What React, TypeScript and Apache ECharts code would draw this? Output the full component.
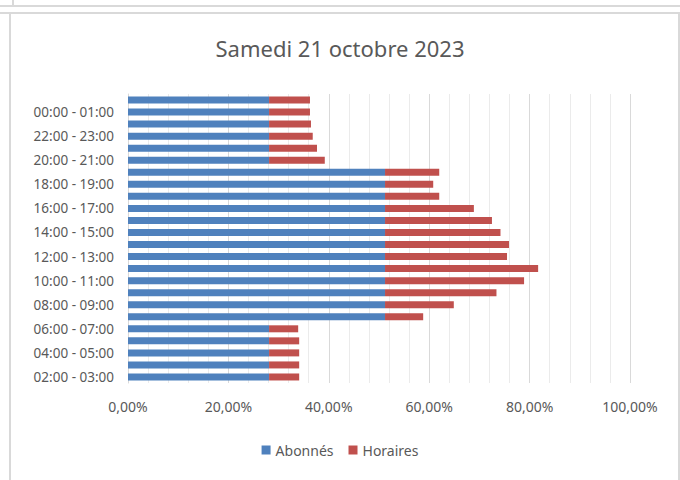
import React, { useEffect, useRef } from "react";
import * as echarts from "echarts";

const categories = [
  "02:00 - 03:00", "03:00 - 04:00", "04:00 - 05:00", "05:00 - 06:00",
  "06:00 - 07:00", "07:00 - 08:00", "08:00 - 09:00", "09:00 - 10:00",
  "10:00 - 11:00", "11:00 - 12:00", "12:00 - 13:00", "13:00 - 14:00",
  "14:00 - 15:00", "15:00 - 16:00", "16:00 - 17:00", "17:00 - 18:00",
  "18:00 - 19:00", "19:00 - 20:00", "20:00 - 21:00", "21:00 - 22:00",
  "22:00 - 23:00", "23:00 - 00:00", "00:00 - 01:00", "01:00 - 02:00",
];

const abonnes = [
  28.1, 28.1, 28.1, 28.1, 28.1, 51.2, 51.2, 51.2, 51.2, 51.2, 51.2, 51.2,
  51.2, 51.2, 51.2, 51.2, 51.2, 51.2, 28.1, 28.1, 28.1, 28.1, 28.1, 28.1,
];

const horaires = [
  6.0, 6.0, 6.0, 6.0, 5.8, 7.6, 13.7, 22.2, 27.7, 30.5, 24.3, 24.7,
  23.0, 21.3, 17.7, 10.8, 9.6, 10.8, 11.1, 9.55, 8.7, 8.35, 8.15, 8.15,
];

const seriesNames = ["Abonnés", "Horaires"];
const title = "Samedi 21 octobre 2023";

const FONT = "Noto Sans";
const TEXT = "#595959";
const BORDER = "#d9d9d9";

export default function App() {
  const ref = useRef<HTMLDivElement>(null);
  useEffect(() => {
    if (!ref.current) return;
    const chart = echarts.init(ref.current, null, { renderer: "svg" });
    chart.setOption({
      animation: false,
      backgroundColor: "#ffffff",
      title: {
        text: title,
        left: "center",
        top: 32,
        textStyle: { fontFamily: FONT, fontSize: 22, fontWeight: "normal", color: TEXT },
      },
      legend: {
        bottom: 18,
        left: "center",
        itemWidth: 9,
        itemHeight: 9,
        itemGap: 15,
        icon: "rect",
        textStyle: { fontFamily: FONT, fontSize: 14, color: TEXT },
        data: seriesNames,
      },
      grid: { left: 128, right: 50, top: 94, bottom: 97, containLabel: false },
      xAxis: {
        type: "value",
        min: 0,
        max: 100,
        interval: 20,
        axisLine: { show: false },
        axisTick: { show: false },
        axisLabel: {
          fontFamily: FONT,
          fontSize: 14,
          color: TEXT,
          margin: 16,
          formatter: (v: number) => v.toFixed(2).replace(".", ",") + "%",
        },
        splitLine: { show: true, lineStyle: { color: BORDER, width: 1 } },
        minorTick: { show: false, splitNumber: 5 },
        minorSplitLine: { show: true, lineStyle: { color: "#ebebeb", width: 1 } },
      },
      yAxis: {
        type: "category",
        data: categories,
        axisLine: { show: true, lineStyle: { color: BORDER } },
        axisTick: { show: false },
        axisLabel: {
          interval: 1,
          fontFamily: FONT,
          fontSize: 13.5,
          color: TEXT,
          margin: 14,
        },
      },
      series: [
        {
          name: seriesNames[0],
          type: "bar",
          stack: "total",
          data: abonnes,
          barWidth: 7,
          itemStyle: { color: "#4f81bd" },
        },
        {
          name: seriesNames[1],
          type: "bar",
          stack: "total",
          data: horaires,
          barWidth: 7,
          itemStyle: { color: "#c0504d" },
        },
      ],
      graphic: [
        { type: "line", shape: { x1: 0, y1: 6, x2: 680, y2: 6 }, style: { stroke: BORDER, lineWidth: 2 } },
        { type: "line", shape: { x1: 0, y1: 13, x2: 680, y2: 13 }, style: { stroke: BORDER, lineWidth: 2 } },
        { type: "line", shape: { x1: 13, y1: 0, x2: 13, y2: 6 }, style: { stroke: BORDER, lineWidth: 2 } },
        { type: "line", shape: { x1: 10, y1: 13, x2: 10, y2: 480 }, style: { stroke: BORDER, lineWidth: 2 } },
        { type: "line", shape: { x1: 679, y1: 13, x2: 679, y2: 480 }, style: { stroke: BORDER, lineWidth: 2 } },
      ],
    });
    return () => chart.dispose();
  }, []);
  return (
    <div
      ref={ref}
      style={{ position: "fixed", left: 0, top: 0, width: 680, height: 480 }}
    />
  );
}
